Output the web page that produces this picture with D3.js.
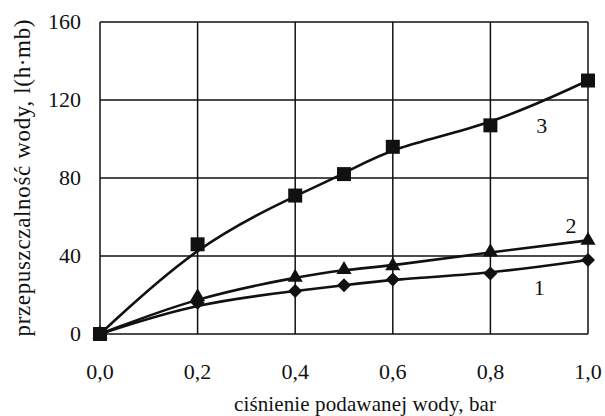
<!DOCTYPE html>
<html>
<head>
<meta charset="utf-8">
<script src="https://cdn.jsdelivr.net/npm/d3@7"></script>
<style>
  body { margin: 0; background: #fff; }
</style>
</head>
<body>
<div id="chart"></div>
<script>
const width = 605;
const height = 416;
const margin = { top: 22, right: 17, bottom: 82, left: 100 };

// pressure, bar
const pressure = [0, 0.2, 0.4, 0.5, 0.6, 0.8, 1.0];
// permeability for each sample
const series1 = [0, 16, 22, 25, 28, 31, 38];
const series2 = [0, 19, 29, 33, 35, 42, 48];
const series3 = [0, 46, 71, 82, 96, 107, 130];
const xTicks = [0, 0.2, 0.4, 0.6, 0.8, 1.0];
const yTicks = [0, 40, 80, 120, 160];

const svg = d3.select("#chart")
  .append("svg")
  .attr("width", width)
  .attr("height", height)
  .attr("font-family", "'Liberation Serif', 'Times New Roman', serif")
  .attr("fill", "#111");

const x = d3.scaleLinear()
  .domain([0, 1])
  .range([margin.left, width - margin.right]);

const y = d3.scaleLinear()
  .domain([0, 160])
  .range([height - margin.bottom, margin.top]);

// grid
svg.append("g")
  .selectAll("line")
  .data(xTicks)
  .join("line")
  .attr("x1", d => x(d)).attr("x2", d => x(d))
  .attr("y1", y(0)).attr("y2", y(160))
  .attr("stroke", "#111").attr("stroke-width", 1.5);

svg.append("g")
  .selectAll("line")
  .data(yTicks)
  .join("line")
  .attr("x1", x(0)).attr("x2", x(1))
  .attr("y1", d => y(d)).attr("y2", d => y(d))
  .attr("stroke", "#111").attr("stroke-width", 1.5);

// tick labels
svg.append("g")
  .selectAll("text")
  .data(xTicks)
  .join("text")
  .attr("x", d => x(d))
  .attr("y", y(0) + 45)
  .attr("text-anchor", "middle")
  .attr("font-size", 22)
  .text(d => d3.format(".1f")(d).replace(".", ","));

svg.append("g")
  .selectAll("text")
  .data(yTicks)
  .join("text")
  .attr("x", x(0) - 19)
  .attr("y", d => y(d) + 7)
  .attr("text-anchor", "end")
  .attr("font-size", 22)
  .text(d => d);

// axis titles
svg.append("text")
  .attr("x", 365)
  .attr("y", 411)
  .attr("text-anchor", "middle")
  .attr("font-size", 21)
  .attr("textLength", 262)
  .attr("lengthAdjust", "spacing")
  .text("ciśnienie podawanej wody, bar");

svg.append("text")
  .attr("transform", "translate(30,178) rotate(-90)")
  .attr("text-anchor", "middle")
  .attr("font-size", 23)
  .attr("textLength", 317)
  .attr("lengthAdjust", "spacing")
  .text("przepuszczalność wody, l(h·mb)");

const line = d3.line()
  .x(d => x(d[0]))
  .y(d => y(d[1]))
  .curve(d3.curveBasis);

const all = [
  { vals: series1, sym: d3.symbolSquare, size: 98, rot: 45, label: "1", lx: 0.9, ly: 20 },
  { vals: series2, sym: d3.symbolTriangle, size: 100, rot: 0, label: "2", lx: 0.965, ly: 52 },
  { vals: series3, sym: d3.symbolSquare, size: 196, rot: 0, label: "3", lx: 0.905, ly: 103 }
];

all.forEach(s => {
  const pts = pressure.map((p, i) => [p, s.vals[i]]);
  svg.append("path")
    .datum(pts)
    .attr("d", line)
    .attr("fill", "none")
    .attr("stroke", "#111")
    .attr("stroke-width", 2.6);

  svg.append("g")
    .selectAll("path")
    .data(pts)
    .join("path")
    .attr("transform", d => `translate(${x(d[0])},${y(d[1])}) rotate(${s.rot})`)
    .attr("d", d3.symbol().type(s.sym).size(s.size))
    .attr("fill", "#111");

  svg.append("text")
    .attr("x", x(s.lx))
    .attr("y", y(s.ly))
    .attr("text-anchor", "middle")
    .attr("font-size", 22)
    .text(s.label);
});
</script>
</body>
</html>
